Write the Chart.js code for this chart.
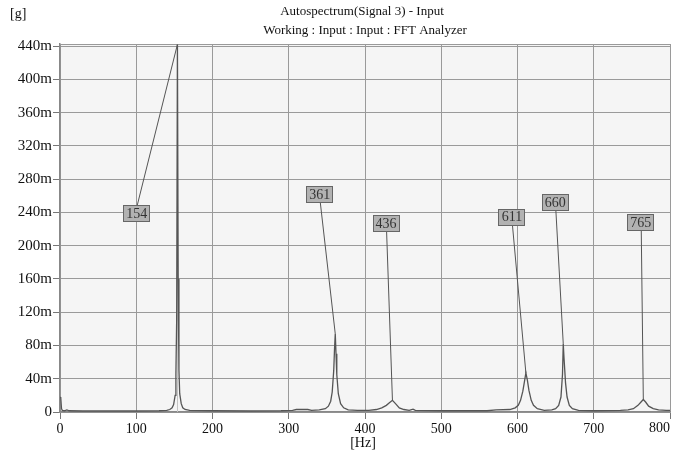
<!DOCTYPE html>
<html lang="en">
<head>
  <meta charset="UTF-8" />
  <title>Autospectrum(Signal 3) - Input</title>
  <script src="https://cdn.jsdelivr.net/npm/chart.js"></script>
  <style>
    body { margin: 0; padding: 0; background: #fff; }
    #spectrum { display: block; }
  </style>
</head>
<body>
  <canvas id="spectrum" width="678" height="453"></canvas>

  <script>
    // spectrum, amplitude in milli-g
    const freqs = [0, 1, 2, 3, 6, 9, 12, 30, 60, 100, 130, 140, 144, 147, 149, 151, 152, 153, 154, 155,
      156, 157, 159, 161, 164, 170, 200, 250, 290, 305, 310, 325, 330, 340, 348, 352, 355, 357, 359, 360,
      361, 362, 363, 365, 368, 372, 378, 390, 405, 415, 422, 428, 432, 436, 440, 445, 451, 458, 463, 466,
      500, 560, 572, 590, 597, 601, 604, 607, 609, 611, 613, 615, 618, 621, 626, 635, 645, 650, 654, 657,
      659, 660, 661, 663, 665, 668, 672, 680, 700, 735, 745, 752, 758, 762, 765, 768, 772, 778, 785, 795, 800];
    const amps = [18, 17, 4, 2, 1.5, 2.5, 1.5, 1.2, 1.2, 1.2, 1.5, 2, 3, 5, 9, 20, 45, 110, 442, 160,
      50, 22, 10, 5, 3, 2, 1.5, 1.2, 1.5, 2, 3, 3, 2, 2.5, 4, 7, 13, 24, 50, 75,
      94, 70, 45, 22, 10, 5, 2.5, 2, 2, 3, 5, 8, 11, 14, 10, 5, 3, 2, 3.5, 2,
      1.5, 1.5, 2.5, 3, 5, 8, 14, 25, 36, 47, 38, 26, 14, 8, 4, 2, 2.5, 4, 8, 18,
      45, 82, 65, 35, 18, 8, 4, 2, 1.5, 2, 2.5, 4, 8, 12, 15, 12, 7, 4, 2.5, 2, 2];

    // marked peaks
    const peakFreqs = [154, 361, 436, 611, 660, 765];
    const peakAmps = [442, 94, 14, 47, 82, 15];

    const xTicks = [0, 100, 200, 300, 400, 500, 600, 700, 800];
    const yTicks = [0, 40, 80, 120, 160, 200, 240, 280, 320, 360, 400, 440];

    const points = freqs.map((f, i) => ({ x: f, y: amps[i] }));
    const serif = '"Liberation Serif", "DejaVu Serif", serif';

    // where the peak boxes sit (Hz, mg)
    const boxSpots = [[100, 239], [340, 262], [427, 227], [592, 235], [649, 252], [761, 228]];

    const plotBack = {
      id: 'plotBack',
      beforeDraw(chart) {
        const { ctx, chartArea: a } = chart;
        ctx.save();
        ctx.fillStyle = '#f5f5f5';
        ctx.fillRect(a.left, a.top, a.right - a.left, a.bottom - a.top);
        ctx.restore();
      },
      beforeDatasetsDraw(chart) {
        const { ctx, chartArea: a, scales } = chart;
        ctx.save();
        // top border (double line)
        ctx.strokeStyle = '#9a9a9a';
        ctx.lineWidth = 1;
        ctx.beginPath();
        ctx.moveTo(a.left, a.top + 0.5);
        ctx.lineTo(a.right, a.top + 0.5);
        ctx.stroke();
        // cursor line at first peak
        const cx = Math.round(scales.x.getPixelForValue(peakFreqs[0])) + 0.5;
        ctx.strokeStyle = '#c4c4c4';
        ctx.beginPath();
        ctx.moveTo(cx, a.top);
        ctx.lineTo(cx, a.bottom);
        ctx.stroke();
        ctx.restore();
      }
    };

    const peakLabels = {
      id: 'peakLabels',
      afterDatasetsDraw(chart) {
        const { ctx, scales } = chart;
        ctx.save();
        ctx.font = '14px ' + serif;
        ctx.textAlign = 'center';
        ctx.textBaseline = 'middle';
        peakFreqs.forEach((f, i) => {
          const px = scales.x.getPixelForValue(f);
          const py = scales.y.getPixelForValue(peakAmps[i]);
          const bx = scales.x.getPixelForValue(boxSpots[i][0]);
          const by = scales.y.getPixelForValue(boxSpots[i][1]);
          const w = 26, h = 16;
          const startY = py < by ? by - h / 2 : by + h / 2;
          ctx.strokeStyle = '#555';
          ctx.lineWidth = 1;
          ctx.beginPath();
          ctx.moveTo(bx + 1, startY);
          ctx.lineTo(px, py);
          ctx.stroke();
          ctx.fillStyle = '#b2b2b2';
          ctx.fillRect(Math.round(bx - w / 2) + 0.5, Math.round(by - h / 2) + 0.5, w, h);
          ctx.strokeStyle = '#666';
          ctx.strokeRect(Math.round(bx - w / 2) + 0.5, Math.round(by - h / 2) + 0.5, w, h);
          ctx.fillStyle = '#333';
          ctx.fillText(String(f), bx + 0.5, by + 1);
        });
        ctx.restore();
      }
    };

    const texts = {
      id: 'texts',
      afterDraw(chart) {
        const { ctx, chartArea: a, scales } = chart;
        ctx.save();
        ctx.fillStyle = '#111';
        ctx.font = '14px ' + serif;
        ctx.textBaseline = 'middle';
        ctx.textAlign = 'left';
        ctx.fillText('[g]', 10, 14);
        ctx.font = '13px ' + serif;
        ctx.textAlign = 'center';
        ctx.fillText('Autospectrum(Signal 3) - Input', 362, 12);
        ctx.fillText('Working : Input : Input : FFT Analyzer', 365, 31);
        ctx.font = '14px ' + serif;
        ctx.fillText('[Hz]', 363, 443);
        // last x label sits inside the plot edge
        ctx.textAlign = 'right';
        ctx.textBaseline = 'top';
        ctx.fillText(String(xTicks[xTicks.length - 1]), a.right, scales.x.top + 9);
        ctx.restore();
      }
    };

    new Chart(document.getElementById('spectrum'), {
      type: 'line',
      data: {
        datasets: [{
          data: points,
          borderColor: '#555',
          borderWidth: 1.3,
          pointRadius: 0,
          tension: 0,
          fill: false
        }]
      },
      options: {
        responsive: false,
        animation: false,
        devicePixelRatio: 1,
        layout: { padding: { top: 44, right: 8, left: 0, bottom: 0 } },
        plugins: { legend: { display: false }, tooltip: { enabled: false }, title: { display: false } },
        scales: {
          x: {
            type: 'linear',
            min: 0,
            max: 800,
            afterFit: s => { s.height = 41; s.paddingRight = 0; s.paddingLeft = 0; },
            afterBuildTicks: s => { s.ticks = xTicks.map(v => ({ value: v })); },
            ticks: {
              includeBounds: false,
              color: '#111',
              font: { family: serif, size: 14 },
              padding: 2,
              maxRotation: 0,
              autoSkip: false,
              callback: v => v === xTicks[xTicks.length - 1] ? '' : String(v)
            },
            grid: { color: '#9a9a9a', tickLength: 7, tickColor: '#777' },
            border: { color: '#888', width: 1.5 }
          },
          y: {
            min: 0,
            max: 442.5,
            afterFit: s => { s.width = 60; },
            afterBuildTicks: s => { s.ticks = yTicks.map(v => ({ value: v })); },
            ticks: {
              includeBounds: false,
              color: '#111',
              font: { family: serif, size: 15 },
              padding: 1,
              callback: v => v === 0 ? '0' : v + 'm'
            },
            grid: { color: '#9a9a9a', tickLength: 7, tickColor: '#777' },
            border: { color: '#888', width: 1.5 }
          }
        }
      },
      plugins: [plotBack, peakLabels, texts]
    });
  </script>
</body>
</html>
